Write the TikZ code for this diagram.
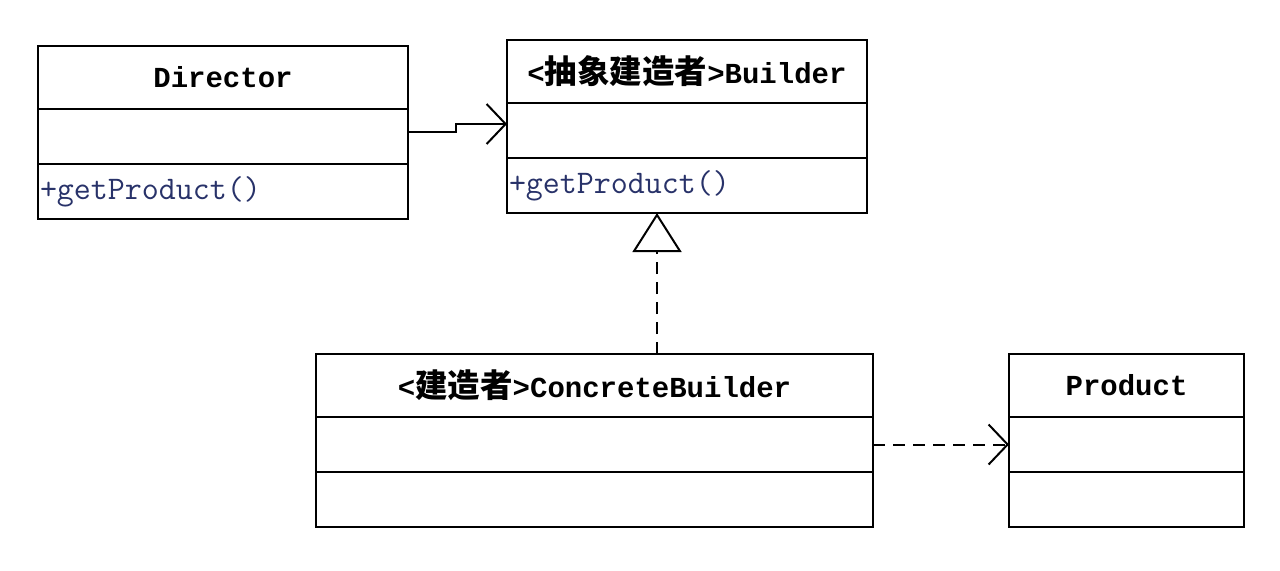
\documentclass[tikz,border=0pt]{standalone}
\usepackage{fontspec}
\newfontfamily\clsfont{Liberation Mono}
\newfontfamily\cjk[Scale=1.12]{Noto Sans CJK SC}
\usetikzlibrary{arrows.meta,positioning}
\definecolor{opblue}{RGB}{40,50,105}

\begin{document}
\begin{tikzpicture}[
  cls/.style={draw, line width=1.2pt, outer sep=0pt, inner sep=0pt, minimum width=#1},
  ttl/.style={cls=#1, minimum height=31.5pt, font=\clsfont\bfseries\fontsize{14.5pt}{17pt}\selectfont},
  att/.style={cls=#1, minimum height=27.5pt},
  mth/.style={cls=#1, minimum height=27.5pt, inner xsep=1pt, text width={#1-2pt}, align=left,
    text=opblue, font=\ttfamily\fontsize{16.5pt}{19pt}\selectfont},
  lnk/.style={line width=1pt},
  dep/.style={lnk, dash pattern=on 6pt off 4pt},
  open/.style={-{Straight Barb[length=9.5pt,width=20pt]}}
]
\useasboundingbox (0,0) rectangle (640pt,-285pt);

\node[ttl=185pt, anchor=north west] (dir-t) at (19pt,-23pt) {Director};
\node[att=185pt, below=0pt of dir-t] (dir-a) {};
\node[mth=185pt, below=0pt of dir-a] (dir-m) {+getProduct()};

\node[ttl=180pt, anchor=north west] (bld-t) at (253.5pt,-20pt) {<{\cjk 抽象建造者}>Builder};
\node[att=180pt, below=0pt of bld-t] (bld-a) {};
\node[mth=180pt, below=0pt of bld-a] (bld-m) {+getProduct()};

\node[ttl=278.5pt, anchor=north west] (cb-t) at (158pt,-177pt) {<{\cjk 建造者}>ConcreteBuilder};
\node[att=278.5pt, below=0pt of cb-t] (cb-a) {};
\node[att=278.5pt, below=0pt of cb-a] (cb-m) {};

\node[ttl=117.5pt, anchor=north west] (pr-t) at (504.5pt,-177pt) {Product};
\node[att=117.5pt, below=0pt of pr-t] (pr-a) {};
\node[att=117.5pt, below=0pt of pr-a] (pr-m) {};

\coordinate (imp) at ([xshift=75pt]bld-m.south west);

\draw[lnk, open] ([yshift=2.25pt]dir-a.east) -- ++(24pt,0) |- ([yshift=3.25pt]bld-a.west);
\draw[dep, -{Triangle[open,length=19.5pt,width=24.5pt]}] (cb-t.north -| imp) -- (imp);
\draw[dep, open] (cb-a.east) -- (cb-a.east -| pr-a.west);
\end{tikzpicture}
\end{document}
